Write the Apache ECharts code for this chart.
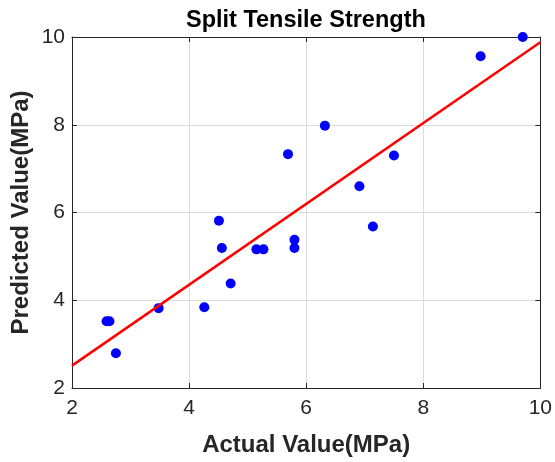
<!DOCTYPE html>
<html>
<head>
<meta charset="utf-8">
<script src="https://cdn.jsdelivr.net/npm/echarts@6/dist/echarts.min.js"></script>
<style>
  html, body { margin: 0; padding: 0; background: #fff; }
  #chart { width: 555px; height: 462px; }
</style>
</head>
<body>
<div id="chart"></div>
<script>
// actual vs predicted split tensile strength (MPa)
const actualValues = [2.59, 2.64, 2.75, 3.48, 4.26, 4.51, 4.56, 4.71, 5.15, 5.27, 5.69, 5.80, 5.80, 6.32, 6.91, 7.14, 7.50, 8.98, 9.70];
const predictedValues = [3.52, 3.52, 2.79, 3.82, 3.84, 5.81, 5.19, 4.38, 5.16, 5.16, 7.33, 5.38, 5.19, 7.98, 6.60, 5.68, 7.30, 9.56, 10.0];

// fitted line end points
const fitX = [2, 10];
const fitY = [2.51, 9.88];

const xTicks = [2, 4, 6, 8, 10];
const yTicks = [2, 4, 6, 8, 10];

const textColor = '#262626';
const fontFamily = 'Liberation Sans, Arial, sans-serif';

const chart = echarts.init(document.getElementById('chart'), null, { renderer: 'canvas' });

const baseAxis = (ticks) => ({
  type: 'value',
  min: ticks[0],
  max: ticks[ticks.length - 1],
  interval: ticks[1] - ticks[0],
  axisLine: { show: true, onZero: false, lineStyle: { color: textColor, width: 1 } },
  axisTick: { show: true, inside: true, length: 5, lineStyle: { color: textColor } },
  splitLine: { show: false },
  axisLabel: { show: false }
});

chart.setOption({
  animation: false,
  backgroundColor: '#fff',
  textStyle: { fontFamily: fontFamily },
  title: {
    text: 'Split Tensile Strength',
    left: 181,
    top: 4,
    textStyle: { fontSize: 23.5, fontWeight: 'bold', color: '#000', fontFamily: fontFamily }
  },
  grid: { left: 72, right: 14, top: 37, bottom: 73 },
  xAxis: [
    Object.assign(baseAxis(xTicks), {
      position: 'bottom',
      name: 'Actual Value(MPa)',
      nameLocation: 'middle',
      nameGap: 45,
      nameMoveOverlap: false,
      nameTextStyle: { fontSize: 24, fontWeight: 'bold', color: textColor, fontFamily: fontFamily },
      splitLine: { show: true, lineStyle: { color: '#dcdcdc', width: 1 } },
      axisLabel: { show: true, fontSize: 21, color: textColor, margin: 10, fontFamily: fontFamily }
    }),
    Object.assign(baseAxis(xTicks), { position: 'top' })
  ],
  yAxis: [
    Object.assign(baseAxis(yTicks), {
      position: 'left',
      name: 'Predicted Value(MPa)',
      nameLocation: 'middle',
      nameGap: 39,
      nameRotate: 90,
      nameMoveOverlap: false,
      nameTextStyle: { fontSize: 24, fontWeight: 'bold', color: textColor, fontFamily: fontFamily },
      splitLine: { show: true, lineStyle: { color: '#dcdcdc', width: 1 } },
      axisLabel: { show: true, fontSize: 21, color: textColor, margin: 7, fontFamily: fontFamily }
    }),
    Object.assign(baseAxis(yTicks), { position: 'right' })
  ],
  series: [
    {
      type: 'scatter',
      xAxisIndex: 0,
      yAxisIndex: 0,
      symbol: 'circle',
      symbolSize: 10,
      itemStyle: { color: '#0000ff', opacity: 1 },
      clip: false,
      z: 2,
      data: actualValues.map((x, i) => [x, predictedValues[i]])
    },
    {
      type: 'line',
      xAxisIndex: 0,
      yAxisIndex: 0,
      showSymbol: false,
      symbol: 'none',
      lineStyle: { color: '#ff0000', width: 2.5 },
      z: 3,
      data: fitX.map((x, i) => [x, fitY[i]])
    }
  ]
});
</script>
</body>
</html>
